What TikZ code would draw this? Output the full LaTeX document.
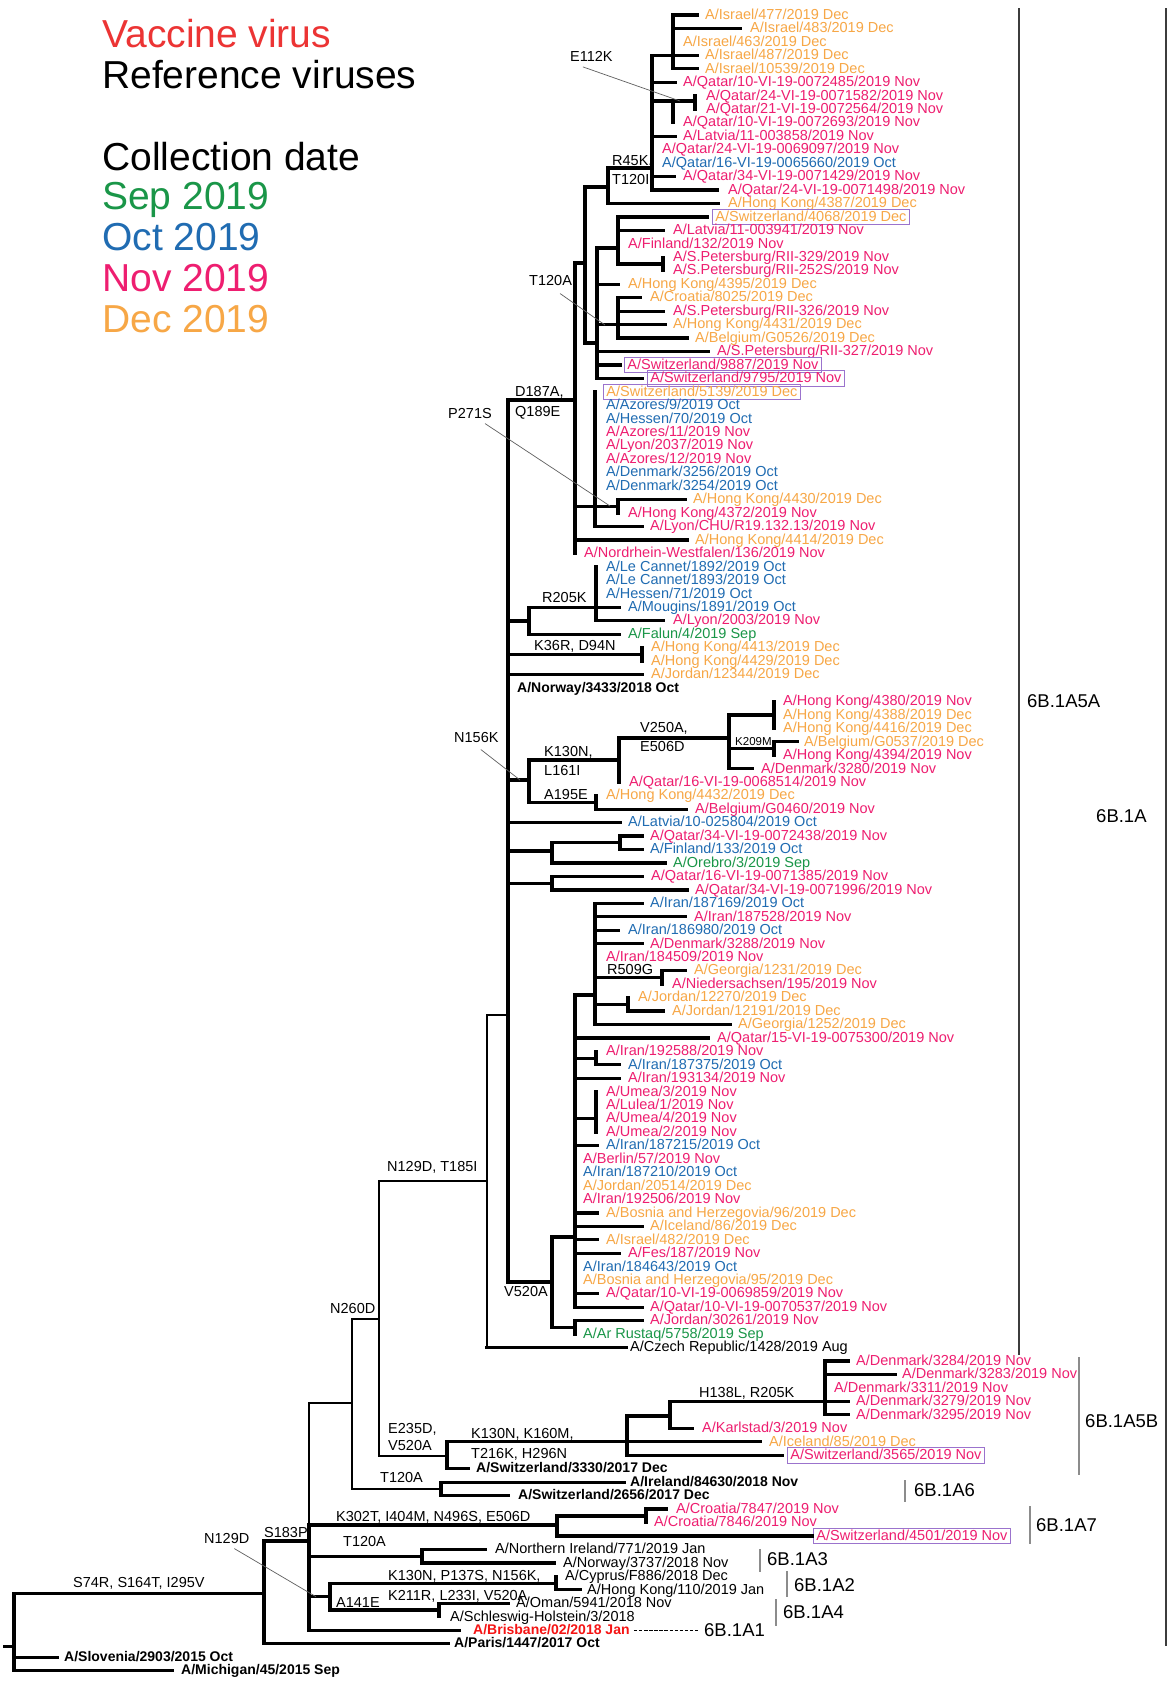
\documentclass[tikz,border=0pt]{standalone}
\usepackage{fontspec}
\setmainfont{Liberation Sans}
\usetikzlibrary{calc}
\definecolor{cnov}{RGB}{238,30,112}
\definecolor{cdec}{RGB}{247,167,70}
\definecolor{coct}{RGB}{32,108,178}
\definecolor{csep}{RGB}{26,150,72}
\definecolor{cvac}{RGB}{236,52,52}
\definecolor{cbri}{RGB}{245,20,20}
\definecolor{cbox}{RGB}{155,115,205}
\definecolor{cbar}{RGB}{60,60,60}
\definecolor{cbarl}{RGB}{140,140,140}
\definecolor{cptr}{RGB}{95,95,95}
\newcommand\fs{\fontsize{14.5}{14.5}\selectfont}
\newcommand\fsb{\fontsize{14}{14}\selectfont\bfseries}
\newcommand\fsm{\fontsize{11.5}{11.5}\selectfont}
\newcommand\fcl{\fontsize{18.5}{18.5}\selectfont}
\newcommand\flg{\fontsize{39}{39}\selectfont}
\newcommand\RY[1]{15+(#1-1)*13.46}
% leaf: row, text x, style, text, parent node, branch end x (empty = no branch)
\newcommand\lf[6]{%
  \node[leaf,#3] (l#1) at (#2,{\RY{#1}}) {#4};%
  \if\relax\detokenize{#6}\relax\else\draw[br] (l#1.west -| #5) -- (l#1.west -| #6,0);\fi}
\begin{document}
\begin{tikzpicture}[x=1pt,y=-1pt,
  br/.style={line width=3.2pt,line cap=rect},
  brt/.style={line width=2.2pt,line cap=rect},
  leaf/.style={anchor=west,inner xsep=0pt,inner ysep=0.5pt,text height=11pt,text depth=2.5pt,font=\fs},
  bx/.style={draw=cbox,line width=0.9pt,inner xsep=3pt,inner ysep=1pt},
  kn/.style={text=cnov},kd/.style={text=cdec},ko/.style={text=coct},ks/.style={text=csep},
  kb/.style={text=black},kr/.style={text=black,font=\fsb},kv/.style={text=cbri,font=\fsb},
  mut/.style={anchor=base west,inner sep=0pt,font=\fs},
  ptr/.style={draw=cptr,line width=0.7pt},
  lg/.style={anchor=base west,inner sep=0pt,font=\flg},
  cl/.style={anchor=base west,inner sep=0pt,font=\fcl},
  barA/.style={draw=cbar,line width=1.8pt},
  barB/.style={draw=cbarl,line width=1.5pt}]
\fill[white] (0,0) rectangle (1168,1681);
\useasboundingbox (0,0) rectangle (1168,1681);

% ---------- legend
\node[lg,text=cvac] (g1) at (102,47.6) {Vaccine virus};
\node[lg] (g2) at (102,88.6) {Reference viruses};
\node[lg] (g3) at (102,170) {Collection date};
\node[lg,text=csep] (g4) at (102,209.6) {Sep 2019};
\node[lg,text=coct] (g5) at (102,250.6) {Oct 2019};
\node[lg,text=cnov] (g6) at (102,291.6) {Nov 2019};
\node[lg,text=cdec] (g7) at (102,332) {Dec 2019};

% ---------- internal nodes
\coordinate (nIsr) at (673,{\RY{4}});
\coordinate (nQ2) at (695,101);
\coordinate (nE112) at (673,101);
\coordinate (nR45) at (652,168);
\coordinate (n608) at (608,187);
\coordinate (nSP) at (663,264);
\coordinate (nLat) at (618,248);
\coordinate (nCro) at (618,{\RY{24}});
\coordinate (nT120) at (597,343);
\coordinate (n585) at (585,263);
\coordinate (nP271) at (618,506.3);
\coordinate (n595) at (595,506.3);
\coordinate (nD187) at (575,400);
\coordinate (nLeC) at (596,{\RY{45}});
\coordinate (nR205) at (529,621);
\coordinate (nK36) at (642,654.35);
\coordinate (nHK3) at (774,{\RY{53}});
\coordinate (nK209) at (774,748.6);
\coordinate (nV250) at (729,738);
\coordinate (nK130) at (619,760);
\coordinate (nA195) at (596,802.4);
\coordinate (nN156) at (529,780);
\coordinate (nQF) at (620,842.8);
\coordinate (nQ72) at (552,851);
\coordinate (nQ71) at (552,883.2);
\coordinate (nR509) at (662,977.4);
\coordinate (nJor) at (628,1004.3);
\coordinate (nIr) at (595,995);
\coordinate (nIr2) at (596,1058.15);
\coordinate (nUm) at (596,{\RY{83}});
\coordinate (nBig) at (575,1237);
\coordinate (nJR) at (575,1327.35);
\coordinate (nV520) at (552,1282);
\coordinate (nMain) at (508,1015);
\coordinate (n487) at (487,1181);
\coordinate (nDen) at (825,{\RY{104}});
\coordinate (nH138) at (670,1416);
\coordinate (nKb) at (627,{\RY{107}});
\coordinate (nE235) at (447,1456);
\coordinate (n379) at (379,1319);
\coordinate (nT120b) at (441,1488.9);
\coordinate (nN260) at (352,1403);
\coordinate (nCro2) at (646,1516);
\coordinate (nK302) at (557,1525);
\coordinate (nT120c) at (422,1556.2);
\coordinate (nCyp) at (556,1583.1);
\coordinate (nA141) at (439,1610);
\coordinate (nN129) at (330,1596.7);
\coordinate (nS183) at (309,1541);
\coordinate (n264) at (264,1593.3);
\coordinate (nRoot) at (14,1646.7);

% ---------- Israel / Qatar (R45K, T120I)
\lf{1}{705}{kd}{A/Israel/477/2019 Dec}{nIsr}{697}
\lf{2}{750}{kd}{A/Israel/483/2019 Dec}{nIsr}{740}
\lf{3}{683}{kd}{A/Israel/463/2019 Dec}{}{}
\lf{4}{705}{kd}{A/Israel/487/2019 Dec}{nIsr}{697}
\lf{5}{705}{kd}{A/Israel/10539/2019 Dec}{nIsr}{697}
\draw[br] (l1.west -| nIsr) -- (l5.west -| nIsr);
\draw[br] (nIsr -| nR45) -- (nIsr);
\lf{6}{683}{kn}{A/Qatar/10-VI-19-0072485/2019 Nov}{nR45}{675}
\lf{7}{706}{kn}{A/Qatar/24-VI-19-0071582/2019 Nov}{}{}
\lf{8}{706}{kn}{A/Qatar/21-VI-19-0072564/2019 Nov}{}{}
\draw[br] (l7.west -| nQ2) -- (l8.west -| nQ2);
\lf{9}{683}{kn}{A/Qatar/10-VI-19-0072693/2019 Nov}{}{}
\draw[br] (nE112) -- (nQ2);
\draw[br] (nE112) -- (l9.west -| nE112);
\draw[br] (nE112 -| nR45) -- (nE112);
\lf{10}{683}{kn}{A/Latvia/11-003858/2019 Nov}{nR45}{675}
\lf{11}{662}{kn}{A/Qatar/24-VI-19-0069097/2019 Nov}{}{}
\lf{12}{662}{ko}{A/Qatar/16-VI-19-0065660/2019 Oct}{}{}
\lf{13}{683}{kn}{A/Qatar/34-VI-19-0071429/2019 Nov}{nR45}{674}
\lf{14}{728}{kn}{A/Qatar/24-VI-19-0071498/2019 Nov}{nR45}{717}
\draw[br] (nIsr -| nR45) -- (l14.west -| nR45);
\draw[br] (nR45 -| n608) -- (nR45);
\lf{15}{728}{kd}{A/Hong Kong/4387/2019 Dec}{n608}{718}
\draw[br] (nR45 -| n608) -- (l15.west -| n608);
\draw[br] (n608 -| n585) -- (n608);

% ---------- T120A clade
\lf{16}{712}{kd,bx}{A/Switzerland/4068/2019 Dec}{nLat}{707}
\lf{17}{673}{kn}{A/Latvia/11-003941/2019 Nov}{nLat}{663}
\lf{18}{628}{kn}{A/Finland/132/2019 Nov}{}{}
\lf{19}{673}{kn}{A/S.Petersburg/RII-329/2019 Nov}{}{}
\lf{20}{673}{kn}{A/S.Petersburg/RII-252S/2019 Nov}{}{}
\draw[br] (l19.west -| nSP) -- (l20.west -| nSP);
\draw[br] (nSP -| nLat) -- (nSP);
\draw[br] (l16.west -| nLat) -- (nSP -| nLat);
\draw[br] (nLat -| nT120) -- (nLat);
\lf{21}{628}{kd}{A/Hong Kong/4395/2019 Dec}{nT120}{618}
\lf{22}{650}{kd}{A/Croatia/8025/2019 Dec}{nCro}{640}
\lf{23}{673}{kn}{A/S.Petersburg/RII-326/2019 Nov}{nCro}{663}
\lf{24}{673}{kd}{A/Hong Kong/4431/2019 Dec}{nCro}{665}
\lf{25}{695}{kd}{A/Belgium/G0526/2019 Dec}{nCro}{687}
\draw[br] (l22.west -| nCro) -- (l25.west -| nCro);
\draw[br] (nCro -| nT120) -- (nCro);
\lf{26}{717}{kn}{A/S.Petersburg/RII-327/2019 Nov}{nT120}{708}
\lf{27}{624}{kn,bx}{A/Switzerland/9887/2019 Nov}{nT120}{620}
\lf{28}{647}{kn,bx}{A/Switzerland/9795/2019 Nov}{nT120}{642}
\draw[br] (nLat -| nT120) -- (l28.west -| nT120);
\draw[br] (nT120 -| n585) -- (nT120);
\draw[br] (n608 -| n585) -- (nT120 -| n585);
\draw[br] (n585 -| nD187) -- (n585);

% ---------- D187A, Q189E polytomy
\lf{29}{603}{kd,bx}{A/Switzerland/5139/2019 Dec}{}{}
\lf{30}{606}{ko}{A/Azores/9/2019 Oct}{}{}
\lf{31}{606}{ko}{A/Hessen/70/2019 Oct}{}{}
\lf{32}{606}{kn}{A/Azores/11/2019 Nov}{}{}
\lf{33}{606}{kn}{A/Lyon/2037/2019 Nov}{}{}
\lf{34}{606}{kn}{A/Azores/12/2019 Nov}{}{}
\lf{35}{606}{ko}{A/Denmark/3256/2019 Oct}{}{}
\lf{36}{606}{ko}{A/Denmark/3254/2019 Oct}{}{}
\lf{37}{693}{kd}{A/Hong Kong/4430/2019 Dec}{nP271}{685}
\lf{38}{628}{kn}{A/Hong Kong/4372/2019 Nov}{}{}
\draw[br] (l37.west -| nP271) -- (l38.west -| nP271);
\draw[br] (n595 -| nD187) -- (n595) -- (nP271);
\lf{39}{650}{kn}{A/Lyon/CHU/R19.132.13/2019 Nov}{n595}{642}
\draw[br] (l29.west -| n595) -- (l39.west -| n595);
\lf{40}{695}{kd}{A/Hong Kong/4414/2019 Dec}{nD187}{687}
\lf{41}{584}{kn}{A/Nordrhein-Westfalen/136/2019 Nov}{}{}
\draw[br] (n585 -| nD187) -- (l41.west -| nD187);
\draw[br] (nD187 -| nMain) -- (nD187);

% ---------- R205K
\lf{42}{606}{ko}{A/Le Cannet/1892/2019 Oct}{}{}
\lf{43}{606}{ko}{A/Le Cannet/1893/2019 Oct}{}{}
\lf{44}{606}{ko}{A/Hessen/71/2019 Oct}{}{}
\lf{45}{628}{ko}{A/Mougins/1891/2019 Oct}{nLeC}{619}
\lf{46}{673}{kn}{A/Lyon/2003/2019 Nov}{nLeC}{663}
\draw[br] (l42.west -| nLeC) -- (l46.west -| nLeC);
\draw[br] (nLeC -| nR205) -- (nLeC);
\lf{47}{628}{ks}{A/Falun/4/2019 Sep}{nR205}{619}
\draw[br] (nLeC -| nR205) -- (l47.west -| nR205);
\draw[br] (nR205 -| nMain) -- (nR205);

% ---------- K36R, D94N
\lf{48}{651}{kd}{A/Hong Kong/4413/2019 Dec}{}{}
\lf{49}{651}{kd}{A/Hong Kong/4429/2019 Dec}{}{}
\draw[br] (l48.west -| nK36) -- (l49.west -| nK36);
\draw[br] (nK36 -| nMain) -- (nK36);
\lf{50}{651}{kd}{A/Jordan/12344/2019 Dec}{nMain}{642}
\lf{51}{517}{kr}{A/Norway/3433/2018 Oct}{}{}

% ---------- N156K
\lf{52}{783}{kn}{A/Hong Kong/4380/2019 Nov}{}{}
\lf{53}{783}{kd}{A/Hong Kong/4388/2019 Dec}{}{}
\lf{54}{783}{kd}{A/Hong Kong/4416/2019 Dec}{}{}
\draw[br] (l52.west -| nHK3) -- (l54.west -| nHK3);
\lf{55}{804}{kd}{A/Belgium/G0537/2019 Dec}{nK209}{797}
\lf{56}{783}{kn}{A/Hong Kong/4394/2019 Nov}{}{}
\draw[br] (l55.west -| nK209) -- (l56.west -| nK209);
\lf{57}{761}{kn}{A/Denmark/3280/2019 Nov}{nV250}{752}
\draw[br] (nHK3 -| nV250) -- (nHK3);
\draw[br] (nK209 -| nV250) -- (nK209);
\draw[br] (nHK3 -| nV250) -- (l57.west -| nV250);
\lf{58}{629}{kn}{A/Qatar/16-VI-19-0068514/2019 Nov}{}{}
\draw[br] (nV250 -| nK130) -- (nV250);
\draw[br] (nV250 -| nK130) -- (l58.west -| nK130);
\lf{59}{606}{kd}{A/Hong Kong/4432/2019 Dec}{}{}
\lf{60}{695}{kn}{A/Belgium/G0460/2019 Nov}{nA195}{686}
\draw[br] (l59.west -| nA195) -- (l60.west -| nA195);
\draw[br] (nK130 -| nN156) -- (nK130);
\draw[br] (nA195 -| nN156) -- (nA195);
\draw[br] (nK130 -| nN156) -- (nA195 -| nN156);
\draw[br] (nN156 -| nMain) -- (nN156);

% ---------- small clades on main stem
\lf{61}{628}{ko}{A/Latvia/10-025804/2019 Oct}{nMain}{620}
\lf{62}{650}{kn}{A/Qatar/34-VI-19-0072438/2019 Nov}{nQF}{642}
\lf{63}{650}{ko}{A/Finland/133/2019 Oct}{nQF}{642}
\draw[br] (l62.west -| nQF) -- (l63.west -| nQF);
\draw[br] (nQF -| nQ72) -- (nQF);
\lf{64}{673}{ks}{A/Orebro/3/2019 Sep}{nQ72}{665}
\draw[br] (nQF -| nQ72) -- (l64.west -| nQ72);
\draw[br] (nQ72 -| nMain) -- (nQ72);
\lf{65}{651}{kn}{A/Qatar/16-VI-19-0071385/2019 Nov}{nQ71}{642}
\lf{66}{695}{kn}{A/Qatar/34-VI-19-0071996/2019 Nov}{nQ71}{687}
\draw[br] (l65.west -| nQ71) -- (l66.west -| nQ71);
\draw[br] (nQ71 -| nMain) -- (nQ71);

% ---------- Iran subclade
\lf{67}{650}{ko}{A/Iran/187169/2019 Oct}{nIr}{642}
\lf{68}{694}{kn}{A/Iran/187528/2019 Nov}{nIr}{685}
\lf{69}{628}{ko}{A/Iran/186980/2019 Oct}{nIr}{618}
\lf{70}{650}{kn}{A/Denmark/3288/2019 Nov}{nIr}{642}
\lf{71}{606}{kn}{A/Iran/184509/2019 Nov}{}{}
\lf{72}{694}{kd}{A/Georgia/1231/2019 Dec}{nR509}{685}
\lf{73}{672}{kn}{A/Niedersachsen/195/2019 Nov}{}{}
\draw[br] (l72.west -| nR509) -- (l73.west -| nR509);
\draw[br] (nR509 -| nIr) -- (nR509);
\lf{74}{638}{kd}{A/Jordan/12270/2019 Dec}{}{}
\lf{75}{672}{kd}{A/Jordan/12191/2019 Dec}{nJor}{663}
\draw[br] (l74.west -| nJor) -- (l75.west -| nJor);
\draw[br] (nJor -| nIr) -- (nJor);
\lf{76}{738}{kd}{A/Georgia/1252/2019 Dec}{nIr}{730}
\draw[br] (l67.west -| nIr) -- (l76.west -| nIr);
\draw[br] (nIr -| nBig) -- (nIr);

% ---------- big polytomy (V520A)
\lf{77}{717}{kn}{A/Qatar/15-VI-19-0075300/2019 Nov}{nBig}{708}
\lf{78}{606}{kn}{A/Iran/192588/2019 Nov}{}{}
\lf{79}{628}{ko}{A/Iran/187375/2019 Oct}{nIr2}{619}
\draw[br] (l78.west -| nIr2) -- (l79.west -| nIr2);
\draw[br] (nIr2 -| nBig) -- (nIr2);
\lf{80}{628}{kn}{A/Iran/193134/2019 Nov}{nBig}{619}
\lf{81}{606}{kn}{A/Umea/3/2019 Nov}{}{}
\lf{82}{606}{kn}{A/Lulea/1/2019 Nov}{}{}
\lf{83}{606}{kn}{A/Umea/4/2019 Nov}{}{}
\lf{84}{606}{kn}{A/Umea/2/2019 Nov}{}{}
\draw[br] (l81.west -| nUm) -- (l84.west -| nUm);
\draw[br] (nUm -| nBig) -- (nUm);
\lf{85}{606}{ko}{A/Iran/187215/2019 Oct}{nBig}{597}
\lf{86}{583}{kn}{A/Berlin/57/2019 Nov}{}{}
\lf{87}{583}{ko}{A/Iran/187210/2019 Oct}{}{}
\lf{88}{583}{kd}{A/Jordan/20514/2019 Dec}{}{}
\lf{89}{583}{kn}{A/Iran/192506/2019 Nov}{}{}
\lf{90}{606}{kd}{A/Bosnia and Herzegovia/96/2019 Dec}{nBig}{597}
\lf{91}{650}{kd}{A/Iceland/86/2019 Dec}{nBig}{642}
\lf{92}{606}{kd}{A/Israel/482/2019 Dec}{nBig}{597}
\lf{93}{628}{kn}{A/Fes/187/2019 Nov}{nBig}{619}
\lf{94}{583}{ko}{A/Iran/184643/2019 Oct}{}{}
\lf{95}{583}{kd}{A/Bosnia and Herzegovia/95/2019 Dec}{}{}
\lf{96}{606}{kn}{A/Qatar/10-VI-19-0069859/2019 Nov}{nBig}{597}
\lf{97}{650}{kn}{A/Qatar/10-VI-19-0070537/2019 Nov}{nBig}{642}
\draw[br] (nIr -| nBig) -- (l97.west -| nBig);
\lf{98}{650}{kn}{A/Jordan/30261/2019 Nov}{nJR}{642}
\lf{99}{583}{ks}{A/Ar Rustaq/5758/2019 Sep}{}{}
\draw[br] (l98.west -| nJR) -- (l99.west -| nJR);
\draw[br] (nBig -| nV520) -- (nBig);
\draw[br] (nJR -| nV520) -- (nJR);
\draw[br] (nBig -| nV520) -- (nJR -| nV520);
\draw[br] (nV520 -| nMain) -- (nV520);
\draw[br] (nD187 -| nMain) -- (nV520 -| nMain);
\draw[brt] (nMain -| n487) -- (nMain);
\lf{100}{630}{kb}{A/Czech Republic/1428/2019 Aug}{n487}{626}
\draw[brt] (nMain -| n487) -- (l100.west -| n487);
\draw[brt] (n487 -| n379) -- (n487);

% ---------- 6B.1A5B
\lf{101}{856}{kn}{A/Denmark/3284/2019 Nov}{nDen}{848}
\lf{102}{902}{kn}{A/Denmark/3283/2019 Nov}{nDen}{895}
\lf{103}{834}{kn}{A/Denmark/3311/2019 Nov}{}{}
\lf{104}{856}{kn}{A/Denmark/3279/2019 Nov}{nDen}{848}
\lf{105}{856}{kn}{A/Denmark/3295/2019 Nov}{nDen}{848}
\draw[br] (l101.west -| nDen) -- (l105.west -| nDen);
\draw[br] (nDen -| nH138) -- (nDen);
\lf{106}{702}{kn}{A/Karlstad/3/2019 Nov}{nH138}{692}
\draw[br] (nDen -| nH138) -- (l106.west -| nH138);
\draw[br] (nH138 -| nKb) -- (nH138);
\lf{107}{769}{kd}{A/Iceland/85/2019 Dec}{nE235}{760}
\lf{108}{787}{kn,bx}{A/Switzerland/3565/2019 Nov}{nKb}{782}
\draw[br] (nH138 -| nKb) -- (l108.west -| nKb);
\lf{109}{476}{kr}{A/Switzerland/3330/2017 Dec}{nE235}{468}
\draw[br] (l107.west -| nE235) -- (l109.west -| nE235);
\draw[brt] (nE235 -| n379) -- (nE235);
\draw[brt] (n487 -| n379) -- (nE235 -| n379);
\draw[brt] (n379 -| nN260) -- (n379);
\lf{110}{630}{kr}{A/Ireland/84630/2018 Nov}{nT120b}{624}
\lf{111}{518}{kr}{A/Switzerland/2656/2017 Dec}{nT120b}{508}
\draw[br] (l110.west -| nT120b) -- (l111.west -| nT120b);
\draw[brt] (nT120b -| nN260) -- (nT120b);
\draw[brt] (n379 -| nN260) -- (nT120b -| nN260);
\draw[brt] (nN260 -| nS183) -- (nN260);

% ---------- lower clades
\lf{112}{676}{kn}{A/Croatia/7847/2019 Nov}{nCro2}{666}
\lf{113}{654}{kn}{A/Croatia/7846/2019 Nov}{}{}
\draw[br] (l112.west -| nCro2) -- (l113.west -| nCro2);
\draw[br] (nCro2 -| nK302) -- (nCro2);
\lf{114}{813}{kn,bx}{A/Switzerland/4501/2019 Nov}{nK302}{812}
\draw[br] (nCro2 -| nK302) -- (l114.west -| nK302);
\draw[br] (nK302 -| nS183) -- (nK302);
\lf{115}{495}{kb}{A/Northern Ireland/771/2019 Jan}{nT120c}{485}
\lf{116}{563}{kb}{A/Norway/3737/2018 Nov}{nT120c}{554}
\draw[br] (l115.west -| nT120c) -- (l116.west -| nT120c);
\draw[br] (nT120c -| nS183) -- (nT120c);
\lf{117}{565}{kb}{A/Cyprus/F886/2018 Dec}{}{}
\lf{118}{587}{kb}{A/Hong Kong/110/2019 Jan}{nCyp}{580}
\draw[br] (l117.west -| nCyp) -- (l118.west -| nCyp);
\lf{119}{516}{kb}{A/Oman/5941/2018 Nov}{nA141}{508}
\lf{120}{450}{kb}{A/Schleswig-Holstein/3/2018}{}{}
\draw[br] (l119.west -| nA141) -- (l120.west -| nA141);
\draw[br] (nCyp -| nN129) -- (nCyp);
\draw[br] (nA141 -| nN129) -- (nA141);
\draw[br] (nCyp -| nN129) -- (nA141 -| nN129);
\draw[br] (nN129 -| nS183) -- (nN129);
\lf{121}{473}{kv}{A/Brisbane/02/2018 Jan}{nS183}{459}
\draw[brt] (nN260 -| nS183) -- (nK302 -| nS183);
\draw[br] (nK302 -| nS183) -- (l121.west -| nS183);
\draw[br] (nS183 -| n264) -- (nS183);
\lf{122}{454}{kr}{A/Paris/1447/2017 Oct}{n264}{448}
\draw[br] (nS183 -| n264) -- (l122.west -| n264);
\draw[br] (n264 -| nRoot) -- (n264);
\lf{123}{64}{kr}{A/Slovenia/2903/2015 Oct}{nRoot}{57}
\lf{124}{181}{kr}{A/Michigan/45/2015 Sep}{nRoot}{172}
\draw[br] (n264 -| nRoot) -- (l124.west -| nRoot);
\draw[br] (nRoot) -- ++(-9,0);

% ---------- mutation labels
\node[mut] (mE112) at (570,61.2) {E112K};
\node[mut] (mR45) at (612,165.2) {R45K,};
\node[mut] (mT120I) at (612,184.2) {T120I};
\node[mut] (mT120A) at (529,285.2) {T120A};
\node[mut] (mD187) at (515,396.2) {D187A,};
\node[mut] (mQ189) at (515,416.2) {Q189E};
\node[mut] (mP271) at (448,418.2) {P271S};
\node[mut] (mR205) at (542,602.7) {R205K};
\node[mut] (mK36) at (534,650.2) {K36R, D94N};
\node[mut] (mN156) at (454,742.2) {N156K};
\node[mut] (mK130) at (544,756.2) {K130N,};
\node[mut] (mL161) at (544,775.2) {L161I};
\node[mut] (mV250) at (640,732.2) {V250A,};
\node[mut] (mE506) at (640,751.2) {E506D};
\node[mut,font=\fsm] (mK209) at (735,745) {K209M};
\node[mut] (mA195) at (544,799.2) {A195E};
\node[mut] (mR509) at (607,974.2) {R509G};
\node[mut] (mV520a) at (504,1296.2) {V520A};
\node[mut] (mN129T) at (387,1171.2) {N129D, T185I};
\node[mut] (mN260) at (330,1313.7) {N260D};
\node[mut] (mE235) at (388,1433.8) {E235D,};
\node[mut] (mV520b) at (388,1450.9) {V520A};
\node[mut] (mK130b) at (471,1438.2) {K130N, K160M,};
\node[mut] (mT216) at (471,1458.2) {T216K, H296N};
\node[mut] (mH138) at (699,1397.2) {H138L, R205K};
\node[mut] (mT120b) at (380,1482.2) {T120A};
\node[mut] (mK302) at (336,1521.8) {K302T, I404M, N496S, E506D};
\node[mut] (mS183) at (264,1537.2) {S183P};
\node[mut] (mN129) at (204,1543.2) {N129D};
\node[mut] (mT120c) at (343,1546.2) {T120A};
\node[mut] (mS74) at (73,1587.2) {S74R, S164T, I295V};
\node[mut] (mK130c) at (388,1580.8) {K130N, P137S, N156K,};
\node[mut] (mK211) at (388,1600.2) {K211R, L233I, V520A};
\node[mut] (mA141) at (336,1607.2) {A141E};

% ---------- pointer lines
\coordinate (tE112) at (680,101);
\coordinate (tT120) at (605,325);
\coordinate (tP271) at (610,506);
\coordinate (tN156) at (520,780);
\coordinate (tN129) at (316,1596.7);
\draw[ptr] ([shift={(-8.5,5.5)}]mE112.south) -- (tE112);
\draw[ptr] ([shift={(9.5,8)}]mT120A.south) -- (tT120);
\draw[ptr] ([shift={(15,5)}]mP271.south) -- (tP271);
\draw[ptr] ([shift={(4.5,7)}]mN156.south) -- (tN156);
\draw[ptr] ([shift={(7.5,5)}]mN129.south) -- (tN129);

% ---------- clade bars and labels
\draw[barA] (1019,8) -- (1019,1355);
\draw[barA] (1166,8) -- (1166,1646);
\draw[barB] (1079,1357) -- (1079,1475);
\draw[barB] (905,1480) -- (905,1502);
\draw[barB] (1030,1506) -- (1030,1544);
\draw[barB] (760,1549) -- (760,1572);
\draw[barB] (787,1571) -- (787,1597);
\draw[barB] (776,1599) -- (776,1626);
\node[cl] (c5A) at (1027,707.6) {6B.1A5A};
\node[cl] (c1A) at (1096,822.6) {6B.1A};
\node[cl] (c5B) at (1085,1427.6) {6B.1A5B};
\node[cl] (c6) at (914,1496.3) {6B.1A6};
\node[cl] (c7) at (1036,1531.6) {6B.1A7};
\node[cl] (c3) at (767,1565.6) {6B.1A3};
\node[cl] (c2) at (794,1591.6) {6B.1A2};
\node[cl] (c4) at (783,1618.6) {6B.1A4};
\node[cl] (c1A1) at (704,1636.6) {6B.1A1};
\draw[line width=1pt,dash pattern=on 3.5pt off 1.6pt] ([xshift=4pt]l121.east) -- ([xshift=-6pt]c1A1.west |- l121.east);
\end{tikzpicture}
\end{document}
